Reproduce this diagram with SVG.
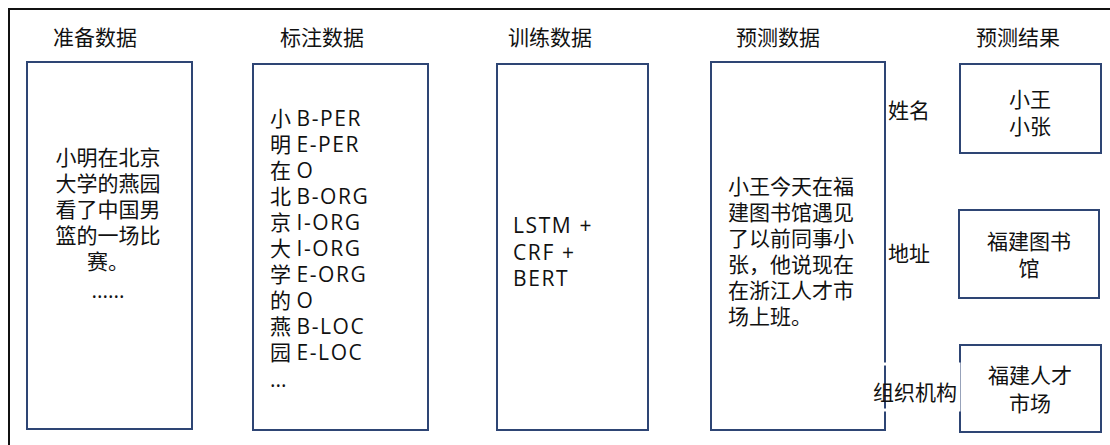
<svg xmlns="http://www.w3.org/2000/svg" width="1110" height="445" viewBox="0 0 1110 445">
<style>
text{font-family:"Open Sans","Noto Sans CJK SC",sans-serif;font-size:21px;fill:#111}
.box{fill:#fff;stroke:#2E4574;stroke-width:2}
.c{text-anchor:middle}
.l{letter-spacing:1.6px}
</style>
<rect x="0" y="0" width="1110" height="445" fill="#fff"/>
<path d="M9,445 V9 H1110" fill="none" stroke="#111" stroke-width="2"/>
<g id="connectors"/>
<g id="prepare">
<text class="c" x="95" y="45">准备数据</text>
<rect class="box" x="27" y="62" width="165" height="367"/>
<text class="c" x="108" y="165">小明在北京</text>
<text class="c" x="108" y="191">大学的燕园</text>
<text class="c" x="108" y="217">看了中国男</text>
<text class="c" x="108" y="243">篮的一场比</text>
<text class="c" x="108" y="269">赛。</text>
<text class="c" x="108" y="298">......</text>
</g>
<g id="annotate">
<text class="c" x="322" y="45">标注数据</text>
<rect class="box" x="253" y="64" width="175" height="366"/>
<text x="270" y="126">小 <tspan class="l">B-PER</tspan></text>
<text x="270" y="152">明 <tspan class="l">E-PER</tspan></text>
<text x="270" y="178">在 <tspan class="l">O</tspan></text>
<text x="270" y="204">北 <tspan class="l">B-ORG</tspan></text>
<text x="270" y="230">京 <tspan class="l">I-ORG</tspan></text>
<text x="270" y="256">大 <tspan class="l">I-ORG</tspan></text>
<text x="270" y="282">学 <tspan class="l">E-ORG</tspan></text>
<text x="270" y="308">的 <tspan class="l">O</tspan></text>
<text x="270" y="334">燕 <tspan class="l">B-LOC</tspan></text>
<text x="270" y="360">园 <tspan class="l">E-LOC</tspan></text>
<text x="270" y="387">...</text>
</g>
<g id="train">
<text class="c" x="550" y="45">训练数据</text>
<rect class="box" x="497" y="64" width="151" height="366"/>
<text class="l" x="513" y="233">LSTM +</text>
<text class="l" x="513" y="260">CRF +</text>
<text class="l" x="513" y="286">BERT</text>
</g>
<g id="predict">
<text class="c" x="778" y="45">预测数据</text>
<rect class="box" x="711" y="62" width="174" height="368"/>
<text x="728" y="194">小王今天在福</text>
<text x="728" y="220">建图书馆遇见</text>
<text x="728" y="246">了以前同事小</text>
<text x="728" y="272">张，他说现在</text>
<text x="728" y="298">在浙江人才市</text>
<text x="728" y="324">场上班。</text>
</g>
<g id="result-title">
<text class="c" x="1018" y="45">预测结果</text>
</g>
<g id="result-name">
<rect class="box" x="960" y="64" width="141" height="89"/>
<text class="c" x="1030" y="107">小王</text>
<text class="c" x="1030" y="134">小张</text>
<text x="888" y="118">姓名</text>
</g>
<g id="result-address">
<rect class="box" x="959" y="210" width="140" height="88"/>
<text class="c" x="1029" y="249">福建图书</text>
<text class="c" x="1029" y="276">馆</text>
<text x="888" y="261">地址</text>
</g>
<g id="result-org">
<rect class="box" x="960" y="345" width="141" height="87"/>
<text class="c" x="1030" y="383">福建人才</text>
<text class="c" x="1030" y="411">市场</text>
<rect x="873" y="364" width="86" height="46" fill="none" stroke="#fff" stroke-width="3"/>
<text x="873" y="400">组织机构</text>
</g>
</svg>
